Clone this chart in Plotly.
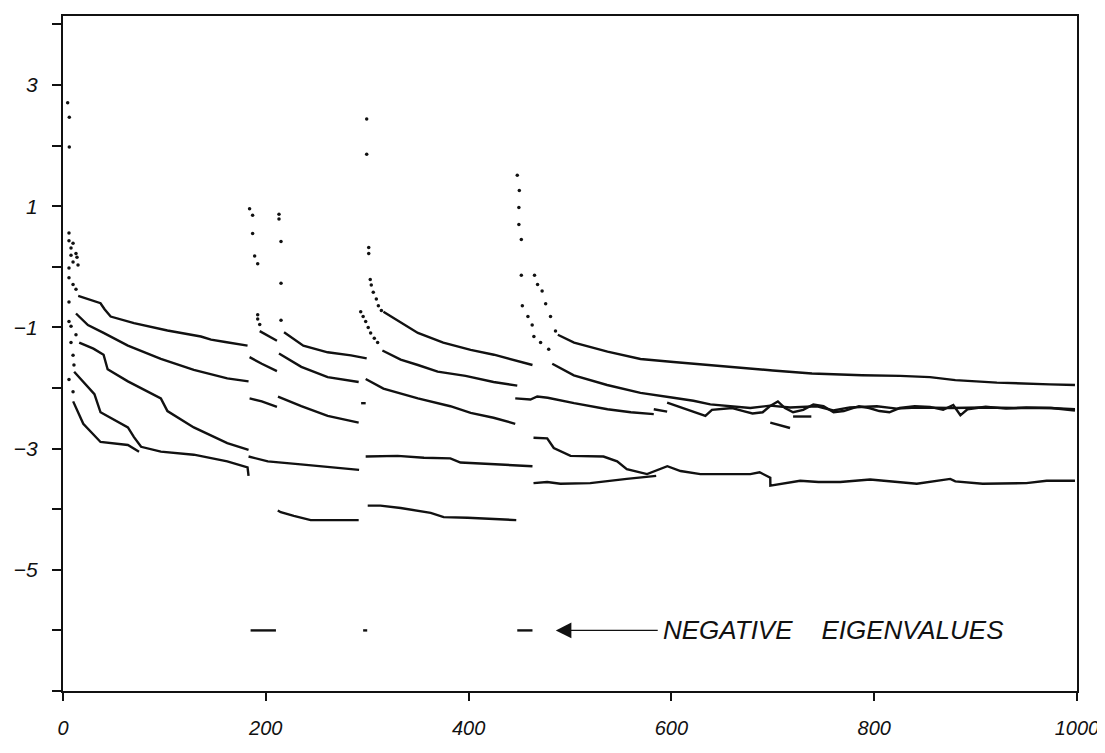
import plotly.graph_objects as go

# ---------------- data ----------------
x_ticks = [0, 200, 400, 600, 800, 1000]
x_ticklabels = ["0", "200", "400", "600", "800", "1000"]
y_ticks = [4, 3, 2, 1, 0, -1, -2, -3, -4, -5, -6, -7]
y_ticklabels = ["", "3", "", "1", "", "\u22121", "", "\u22123", "", "\u22125", "", ""]

# group A (0-183)
a1_x = [15, 25, 37, 41, 47, 70, 103, 136, 146, 160, 182]
a1_y = [-0.48, -0.53, -0.60, -0.70, -0.82, -0.93, -1.05, -1.15, -1.20, -1.24, -1.30]
a2_x = [12.8, 24.6, 40, 54, 64, 96.5, 129, 162, 183]
a2_y = [-0.77, -0.96, -1.09, -1.22, -1.30, -1.52, -1.70, -1.84, -1.89]
a3_x = [16, 30, 40, 44, 64, 96.5, 103, 129, 162, 183]
a3_y = [-1.25, -1.35, -1.45, -1.69, -1.89, -2.17, -2.38, -2.65, -2.91, -3.02]
a4_x = [11, 31, 37, 64, 70, 77, 96.5, 129, 162, 182, 183]
a4_y = [-1.73, -2.10, -2.40, -2.65, -2.81, -2.97, -3.05, -3.10, -3.21, -3.31, -3.45]
a5_x = [10, 20, 37, 64, 75]
a5_y = [-2.22, -2.59, -2.89, -2.94, -3.05]

# group B (184-211)
b1_x = [194, 200, 211]
b1_y = [-1.06, -1.12, -1.22]
b2_x = [184, 196, 211]
b2_y = [-1.49, -1.60, -1.72]
b3_x = [184, 196, 211]
b3_y = [-2.17, -2.22, -2.31]
b4_x = [183, 202, 234.5, 264, 292]
b4_y = [-3.13, -3.21, -3.26, -3.31, -3.35]

# group C (212-300)
c1_x = [218, 237, 261, 284, 299.5]
c1_y = [-1.08, -1.30, -1.41, -1.46, -1.51]
c2_x = [213, 235, 261, 291.6]
c2_y = [-1.43, -1.65, -1.82, -1.90]
c3_x = [212, 235, 261, 291.6]
c3_y = [-2.14, -2.30, -2.46, -2.57]
c4_x = [294, 298.5]
c4_y = [-2.25, -2.25]
c5_x = [211.8, 214.8, 227.6, 244.3, 291.6]
c5_y = [-4.02, -4.05, -4.11, -4.18, -4.18]

# group D (298-463)
d1_x = [316, 330, 350, 375, 402, 425, 448, 463]
d1_y = [-0.74, -0.88, -1.09, -1.25, -1.37, -1.45, -1.56, -1.62]
d2_x = [315, 333, 350, 369.5, 397, 424.6, 448]
d2_y = [-1.38, -1.53, -1.62, -1.73, -1.80, -1.90, -1.96]
d3_x = [298.5, 316, 350, 382, 402, 424.6, 446]
d3_y = [-1.85, -2.01, -2.17, -2.30, -2.41, -2.49, -2.59]
d4_x = [298.5, 330, 356, 382, 392, 424.6, 463]
d4_y = [-3.13, -3.12, -3.15, -3.16, -3.23, -3.26, -3.29]
d5_x = [300.5, 313, 333, 350, 362.6, 375.4, 399, 447]
d5_y = [-3.94, -3.94, -3.98, -4.02, -4.06, -4.13, -4.14, -4.18]

# group E (446-1000)
e1_x = [488, 504, 537, 569.5, 602, 635, 668, 700, 738.6, 788, 825.6, 855, 880, 921, 973, 998]
e1_y = [-1.12, -1.25, -1.40, -1.52, -1.57, -1.62, -1.67, -1.71, -1.76, -1.79, -1.80, -1.82, -1.87, -1.91, -1.94, -1.95]
e2_x = [482.5, 503.8, 536.6, 569.5, 602, 621.7, 638.4, 658, 677.8, 697.5, 717, 743.5, 759.6, 776,
        802.6, 822.4, 842, 874.9, 907.7, 940, 973.4, 998]
e2_y = [-1.60, -1.79, -1.95, -2.08, -2.16, -2.21, -2.27, -2.30, -2.33, -2.29, -2.32, -2.30, -2.37, -2.32,
        -2.30, -2.34, -2.32, -2.33, -2.32, -2.33, -2.33, -2.35]
e3_x = [446, 461, 467.7, 478, 504, 537, 560, 582.6]
e3_y = [-2.17, -2.19, -2.14, -2.16, -2.25, -2.35, -2.40, -2.43]
e3b_x = [582.6, 595.8]
e3b_y = [-2.35, -2.39]
e6_x = [595.8, 610, 633.5, 640, 660, 671, 680, 690, 697, 705, 712, 720, 730, 740, 750, 760, 770, 785,
        795, 805, 815, 825, 840, 855, 868, 878, 885, 892, 910, 930, 950, 975, 998]
e6_y = [-2.24, -2.32, -2.46, -2.36, -2.33, -2.38, -2.42, -2.40, -2.30, -2.22, -2.33, -2.40, -2.36, -2.27,
        -2.30, -2.40, -2.38, -2.30, -2.33, -2.38, -2.40, -2.33, -2.30, -2.31, -2.36, -2.28, -2.45, -2.35,
        -2.31, -2.34, -2.32, -2.33, -2.37]
e7_x = [697.5, 717]
e7_y = [-2.57, -2.66]
e8_x = [720, 738]
e8_y = [-2.47, -2.47]
e4_x = [464, 477.5, 490.6, 520, 556, 585]
e4_y = [-3.57, -3.55, -3.58, -3.57, -3.50, -3.45]
e5_x = [464, 477.5, 484, 500.5, 533, 546.5, 556, 576, 596, 609, 628.6, 660, 677.8, 687, 697.5, 697.6,
        727, 745, 766.5, 796, 810, 842, 875, 880, 907, 950, 970, 998]
e5_y = [-2.82, -2.83, -2.99, -3.12, -3.13, -3.21, -3.34, -3.42, -3.29, -3.37, -3.42, -3.42, -3.42, -3.39,
        -3.48, -3.61, -3.53, -3.55, -3.55, -3.51, -3.53, -3.58, -3.50, -3.54, -3.58, -3.57, -3.53, -3.53]

# negative eigenvalues (plotted at -6)
neg1_x = [185, 210]
neg2_x = [296, 300]
neg3_x = [448, 463]
neg_level = -6

# isolated points (spikes after each restart)
spk_a_x = [4.6, 6.2, 6.2, 5.9, 5.9, 9.9, 7.9, 12.8, 7.9, 13.8, 9.9, 14.8, 5.9, 5.9, 9.9, 12.8, 5.9, 5.9,
           7.9, 12.8, 7.9, 9.9, 10.8, 5.9, 9.9]
spk_a_y = [2.71, 2.47, 1.98, 0.56, 0.43, 0.39, 0.31, 0.22, 0.19, 0.16, 0.08, 0.03, -0.02, -0.18, -0.29,
           -0.37, -0.58, -0.90, -0.98, -1.12, -1.25, -1.46, -1.62, -1.86, -2.06]
spk_b_x = [184, 187, 187, 189, 192, 192, 192, 194]
spk_b_y = [0.96, 0.85, 0.55, 0.18, 0.05, -0.79, -0.86, -0.95]
spk_c_x = [213, 213, 215, 215, 215]
spk_c_y = [0.87, 0.79, 0.42, -0.27, -0.88]
spk_d_x = [299.5, 299.5, 301.5, 301.5, 303, 304, 306, 309, 311, 314,
           293.6, 296, 298.5, 301, 303.4, 307, 310.3]
spk_d_y = [2.44, 1.86, 0.32, 0.22, -0.21, -0.30, -0.42, -0.53, -0.64, -0.72,
           -0.74, -0.82, -0.90, -1.00, -1.09, -1.18, -1.25]
spk_e_x = [448, 450, 449.6, 449.6, 452, 452, 465, 453, 458.5, 462.7, 464.4, 471, 479,
           468, 472.5, 476, 480.8, 485.7]
spk_e_y = [1.51, 1.26, 0.98, 0.70, 0.45, -0.14, -0.14, -0.64, -0.82, -0.96, -1.15, -1.25, -1.36,
           -0.29, -0.40, -0.61, -0.82, -1.06]

annotation_text = "NEGATIVE\u00a0\u00a0\u00a0\u00a0EIGENVALUES"
arrow_tip_x = 486
text_x = 590

# ---------------- figure ----------------
INK = "#111111"
FONT = "Liberation Sans"

fig = go.Figure()

line_series = [
    (a1_x, a1_y), (a2_x, a2_y), (a3_x, a3_y), (a4_x, a4_y), (a5_x, a5_y),
    (b1_x, b1_y), (b2_x, b2_y), (b3_x, b3_y), (b4_x, b4_y),
    (c1_x, c1_y), (c2_x, c2_y), (c3_x, c3_y), (c4_x, c4_y), (c5_x, c5_y),
    (d1_x, d1_y), (d2_x, d2_y), (d3_x, d3_y), (d4_x, d4_y), (d5_x, d5_y),
    (e1_x, e1_y), (e2_x, e2_y), (e3_x, e3_y), (e3b_x, e3b_y), (e6_x, e6_y),
    (e7_x, e7_y), (e8_x, e8_y), (e4_x, e4_y), (e5_x, e5_y),
]
for xs, ys in line_series:
    fig.add_trace(go.Scatter(x=xs, y=ys, mode="lines",
                             line=dict(color=INK, width=2.4), hoverinfo="skip"))

for xs in (neg1_x, neg2_x, neg3_x):
    fig.add_trace(go.Scatter(x=xs, y=[neg_level] * len(xs), mode="lines",
                             line=dict(color=INK, width=2.4), hoverinfo="skip"))

for xs, ys in [(spk_a_x, spk_a_y), (spk_b_x, spk_b_y), (spk_c_x, spk_c_y),
               (spk_d_x, spk_d_y), (spk_e_x, spk_e_y)]:
    fig.add_trace(go.Scatter(x=xs, y=ys, mode="markers",
                             marker=dict(color=INK, size=3.5), hoverinfo="skip"))

# arrow + label
fig.add_annotation(x=arrow_tip_x, y=neg_level, ax=text_x - 2, ay=neg_level,
                   xref="x", yref="y", axref="x", ayref="y",
                   text="", showarrow=True, arrowhead=2, arrowsize=2.4,
                   arrowwidth=1.3, arrowcolor=INK)
fig.add_annotation(x=text_x, y=neg_level, xref="x", yref="y", text=annotation_text,
                   showarrow=False, xanchor="left", yanchor="middle",
                   font=dict(family=FONT, size=26, color=INK, style="italic"))

# the page body adds an 8px margin, so the figure is offset by 8px; sizes
# and margins are chosen so the plot area lands on the reference frame
fig.update_layout(
    width=1097, height=737, autosize=False,
    margin=dict(l=54, r=28, t=6, b=37),
    paper_bgcolor="white", plot_bgcolor="white",
    showlegend=False,
    font=dict(family=FONT, color=INK),
)
fig.update_xaxes(
    range=[0, 1000], tickvals=x_ticks, ticktext=x_ticklabels,
    showgrid=False, zeroline=False, showline=True, linecolor=INK, linewidth=2,
    mirror=True, ticks="outside", ticklen=8, tickwidth=2, tickcolor=INK,
    ticklabelstandoff=10,
    tickfont=dict(family=FONT, size=20, color=INK, style="italic"),
)
fig.update_yaxes(
    range=[-7, 4.14], tickvals=y_ticks, ticktext=y_ticklabels,
    showgrid=False, zeroline=False, showline=True, linecolor=INK, linewidth=2,
    mirror=True, ticks="outside", ticklen=9, tickwidth=2, tickcolor=INK,
    ticklabelstandoff=10,
    tickfont=dict(family=FONT, size=21, color=INK, style="italic"),
)

fig.write_html("out.html")
